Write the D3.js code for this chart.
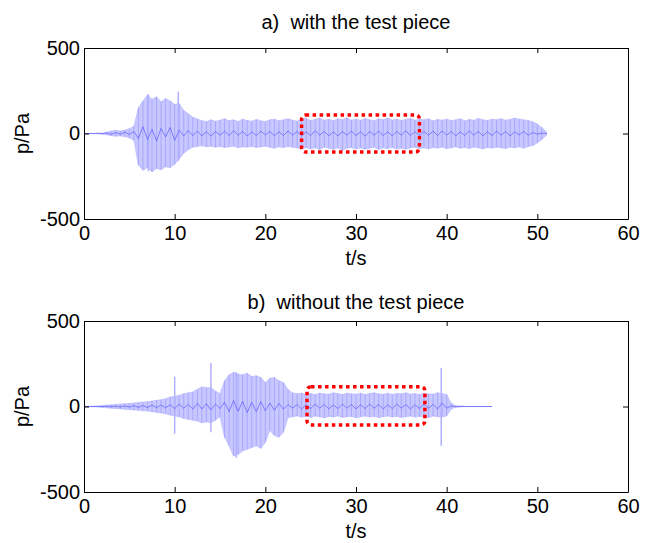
<!DOCTYPE html>
<html>
<head>
<meta charset="utf-8">
<script src="https://cdn.jsdelivr.net/npm/d3@7"></script>
<style>
  body { margin: 0; background: #fff; }
  text { font-family: "Liberation Sans", Arial, sans-serif; fill: #000; }
</style>
</head>
<body>
<div id="chart"></div>
<script>
// time grid step of the sampled envelopes (s)
var step = 0.5;
var xTicks = [0, 10, 20, 30, 40, 50, 60];
var yTicks = [-500, 0, 500];

// a) with the test piece, t = 0 .. 51 s
var upperA = [0, 0, 0, 2, 3, 8, 14, 18, 15, 20,
  28, 42, 150, 190, 225, 200, 215, 185, 205, 190,
  170, 175, 135, 115, 95, 85, 75, 70, 80, 72,
  78, 86, 74, 80, 70, 84, 76, 72, 82, 74,
  70, 80, 84, 75, 80, 86, 78, 72, 84, 88,
  76, 82, 90, 78, 84, 75, 86, 80, 92, 78,
  84, 76, 88, 80, 74, 86, 80, 90, 78, 84,
  76, 82, 88, 78, 84, 80, 86, 74, 82, 78,
  84, 76, 80, 86, 74, 82, 78, 88, 80, 76,
  84, 80, 86, 78, 82, 90, 84, 80, 76, 68,
  55, 35, 10];
var lowerA = [0, 0, 0, -2, -3, -8, -12, -16, -14, -18,
  -25, -40, -185, -215, -200, -225, -205, -212, -195, -200,
  -180, -150, -115, -95, -80, -75, -72, -78, -74, -80,
  -76, -82, -78, -74, -84, -78, -80, -76, -82, -78,
  -74, -80, -86, -78, -82, -76, -80, -84, -88, -82,
  -90, -84, -94, -80, -86, -92, -84, -98, -86, -82,
  -90, -84, -92, -86, -80, -94, -84, -88, -82, -90,
  -86, -92, -84, -80, -88, -84, -90, -82, -86, -80,
  -88, -84, -78, -86, -82, -88, -80, -84, -90, -82,
  -86, -80, -84, -88, -80, -84, -78, -86, -76, -70,
  -55, -35, -10];
var traceA = [0, 0, 0, 1, -2, 4, -5, 6, -4, 8,
  -6, 12, -30, 40, -35, 25, -45, 30, -20, 35,
  -40, 20, -15, 18, -12, 15, -14, 10, -16, 12,
  -10, 14, -12, 16, -10, 12, -15, 10, -12, 14,
  -8, 12, -14, 10, -12, 15, -10, 12, -14, 10,
  -12, 16, -10, 12, -14, 10, -15, 12, -10, 14,
  -12, 10, -16, 12, -10, 14, -12, 10, -14, 12,
  -10, 16, -12, 10, -14, 12, -10, 14, -12, 15,
  -10, 12, -14, 10, -12, 16, -10, 12, -14, 10,
  -12, 14, -10, 12, -14, 10, -8, 12, -10, 6,
  -4, 2, 0];
// isolated spikes: time, top, bottom
var spikeTimesA = [7.1, 10.4];
var spikeTopA = [230, 245];
var spikeBottomA = [-220, -160];

// b) without the test piece, t = 0 .. 45 s
var upperB = [1, 1, 2, 3, 6, 8, 10, 12, 14, 16,
  18, 20, 24, 26, 28, 32, 36, 40, 45, 55,
  60, 65, 75, 80, 85, 100, 115, 110, 110, 90,
  75, 150, 185, 200, 190, 185, 195, 175, 180, 170,
  140, 165, 170, 150, 140, 100, 80, 75, 78, 72,
  76, 70, 78, 74, 72, 80, 76, 70, 78, 74,
  72, 78, 70, 76, 80, 74, 72, 78, 70, 76,
  74, 80, 72, 76, 70, 78, 74, 72, 80, 75,
  70, 20, 5, 3, 1, 0.5, 0.5, 0.5, 0.5, 0.5,
  0.5];
var lowerB = [-1, -1, -2, -3, -6, -8, -10, -12, -14, -16,
  -18, -20, -22, -25, -27, -30, -34, -38, -42, -50,
  -55, -60, -70, -75, -80, -85, -95, -90, -95, -80,
  -60, -180, -230, -290, -280, -260, -250, -240, -230, -245,
  -210, -140, -170, -180, -150, -65, -60, -55, -62, -58,
  -64, -56, -60, -66, -58, -62, -55, -64, -60, -58,
  -66, -60, -56, -62, -58, -64, -60, -56, -62, -58,
  -64, -60, -56, -62, -58, -60, -64, -56, -60, -62,
  -55, -15, -4, -3, -1, -0.5, -0.5, -0.5, -0.5, -0.5,
  -0.5];
var traceB = [0, 0, 0, 1, -1, 2, -2, 3, -3, 4,
  -4, 5, -5, 6, -6, 8, -7, 9, -8, 10,
  -12, 14, -10, 12, -15, 18, -14, 16, -20, 14,
  -12, 25, -30, 35, -28, 30, -35, 25, -30, 28,
  -25, 20, -22, 18, -15, 12, -10, 12, -14, 10,
  -12, 14, -10, 12, -14, 10, -12, 14, -10, 12,
  -14, 10, -12, 14, -10, 12, -14, 10, -12, 14,
  -10, 12, -14, 10, -12, 14, -10, 12, -14, 20,
  -10, 4, -2, 1, 0, 0, 0, 0, 0, 0,
  0];
var spikeTimesB = [10, 14, 16.8, 39.4];
var spikeTopB = [175, 255, 200, 225];
var spikeBottomB = [-160, -150, -300, -230];

// dotted highlight boxes [t0, t1, pLow, pHigh]
var boxA = [24, 37, -108, 108];
var boxB = [24.6, 37.6, -108, 116];

var fig = { width: 655, height: 543, left: 84, right: 628 };

var svg = d3.select("#chart").append("svg")
  .attr("width", fig.width)
  .attr("height", fig.height);

var x = d3.scaleLinear().domain([0, 60]).range([fig.left, fig.right]);

function drawPanel(opt) {
  var y = d3.scaleLinear().domain([-500, 500]).range([opt.bottom, opt.top]);
  var g = svg.append("g");

  var pts = opt.upper.map(function (u, i) {
    return { t: i * step, hi: u, lo: opt.lower[i], tr: opt.trace[i] };
  });
  var spikes = opt.spikeTimes.map(function (t, i) {
    return { t: t, hi: opt.spikeTop[i], lo: opt.spikeBottom[i] };
  });

  /* envelope */
  g.append("path")
    .datum(pts)
    .attr("d", d3.area().x(d => x(d.t)).y0(d => y(d.lo)).y1(d => y(d.hi)))
    .style("fill", "#c8c8ff")
    .style("stroke", "#b4b4ff")
    .style("stroke-width", 0.6);

  /* vertical oscillation strokes */
  g.selectAll("line.osc")
    .data(pts)
    .enter()
    .append("line")
    .attr("class", "osc")
    .attr("x1", d => x(d.t)).attr("x2", d => x(d.t))
    .attr("y1", d => y(d.lo)).attr("y2", d => y(d.hi))
    .style("stroke", "#a8a8ff")
    .style("stroke-width", 1);

  /* isolated spikes */
  g.selectAll("line.spike")
    .data(spikes)
    .enter()
    .append("line")
    .attr("class", "spike")
    .attr("x1", d => x(d.t)).attr("x2", d => x(d.t))
    .attr("y1", d => y(d.lo)).attr("y2", d => y(d.hi))
    .style("stroke", "#b0b0ff")
    .style("stroke-width", 1.5);

  /* trace core */
  g.append("path")
    .datum(pts)
    .attr("d", d3.line().x(d => x(d.t)).y(d => y(d.tr)))
    .style("fill", "none")
    .style("stroke", "#5a5aff")
    .style("stroke-width", 0.7);

  /* red dotted box */
  g.append("rect")
    .attr("x", x(opt.box[0]))
    .attr("y", y(opt.box[3]))
    .attr("width", x(opt.box[1]) - x(opt.box[0]))
    .attr("height", y(opt.box[2]) - y(opt.box[3]))
    .attr("rx", 4)
    .style("fill", "none")
    .style("stroke", "#ff0000")
    .style("stroke-width", 3.5)
    .style("stroke-dasharray", "3.5,3.5");

  /* axes, ticks inward */
  var fmt = d => String(d);
  g.append("g")
    .attr("transform", `translate(0, ${opt.bottom})`)
    .call(d3.axisBottom(x).tickValues(xTicks).tickFormat(fmt).tickSizeInner(-5).tickSizeOuter(0).tickPadding(7));
  g.append("g")
    .attr("transform", `translate(0, ${opt.top})`)
    .call(d3.axisTop(x).tickValues(xTicks).tickSizeInner(-5).tickSizeOuter(0).tickFormat(""));
  g.append("g")
    .attr("transform", `translate(${fig.left}, 0)`)
    .call(d3.axisLeft(y).tickValues(yTicks).tickFormat(fmt).tickSizeInner(-5).tickSizeOuter(0).tickPadding(4));
  g.append("g")
    .attr("transform", `translate(${fig.right}, 0)`)
    .call(d3.axisRight(y).tickValues(yTicks).tickSizeInner(-5).tickSizeOuter(0).tickFormat(""));

  g.selectAll(".domain, .tick line").style("stroke", "#000");
  g.selectAll(".tick text")
    .style("font-size", "20px")
    .style("font-family", "'Liberation Sans', Arial, sans-serif")
    .attr("fill", "#000");

  /* labels */
  g.append("text")
    .attr("x", (fig.left + fig.right) / 2)
    .attr("y", opt.titleY)
    .attr("text-anchor", "middle")
    .style("font-size", "20px")
    .style("white-space", "pre")
    .text(opt.title);
  g.append("text")
    .attr("x", (fig.left + fig.right) / 2)
    .attr("y", opt.bottom + 46)
    .attr("text-anchor", "middle")
    .style("font-size", "20px")
    .text("t/s");
  g.append("text")
    .attr("transform", `translate(29, ${(opt.top + opt.bottom) / 2}) rotate(-90)`)
    .attr("text-anchor", "middle")
    .style("font-size", "20px")
    .text("p/Pa");
}

drawPanel({ top: 48, bottom: 219, titleY: 29, title: "a)  with the test piece",
  upper: upperA, lower: lowerA, trace: traceA,
  spikeTimes: spikeTimesA, spikeTop: spikeTopA, spikeBottom: spikeBottomA, box: boxA });
drawPanel({ top: 321, bottom: 492, titleY: 309, title: "b)  without the test piece",
  upper: upperB, lower: lowerB, trace: traceB,
  spikeTimes: spikeTimesB, spikeTop: spikeTopB, spikeBottom: spikeBottomB, box: boxB });
</script>
</body>
</html>
